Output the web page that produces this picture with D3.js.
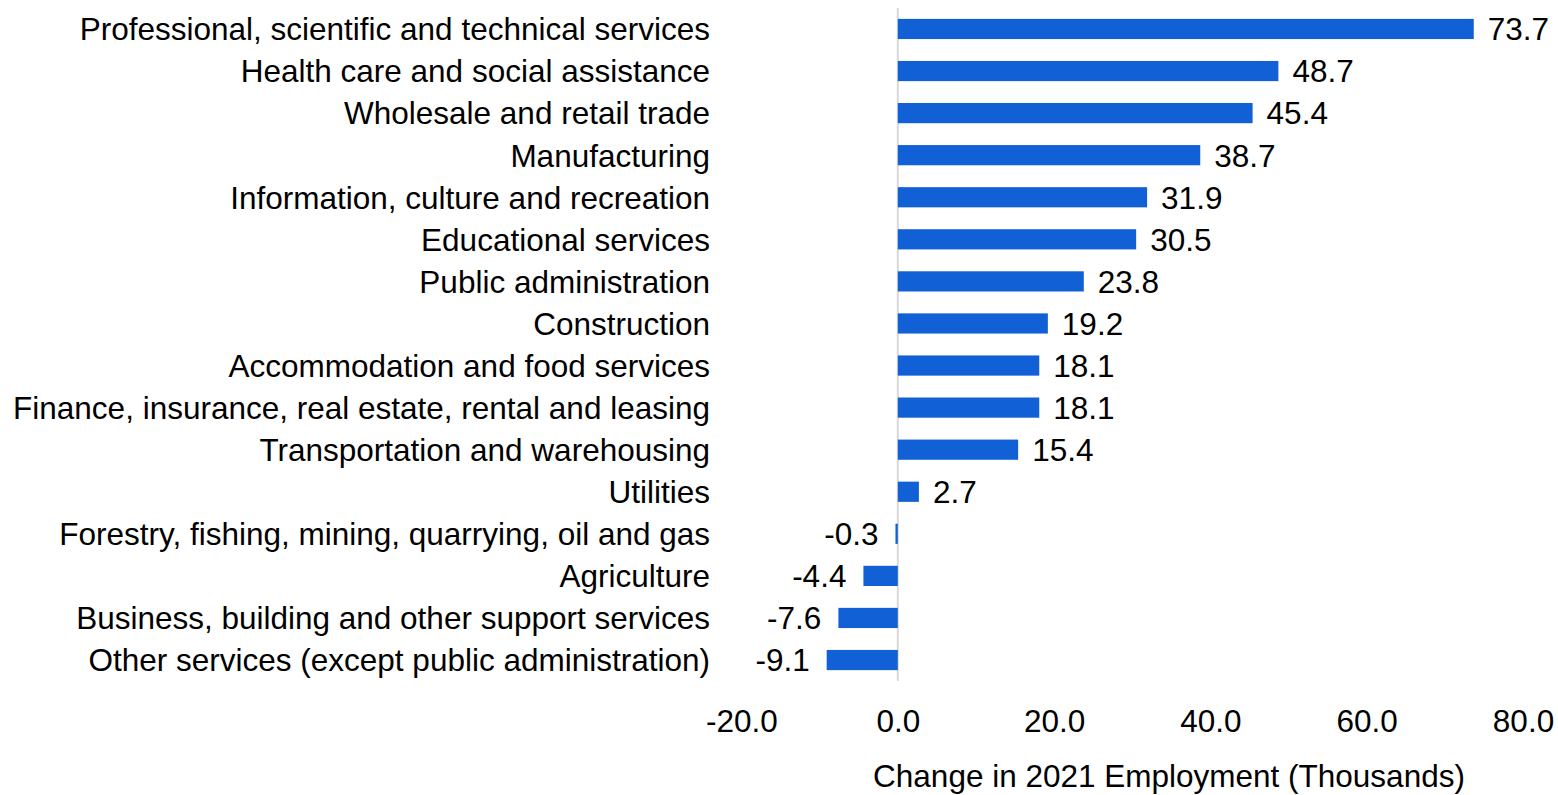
<!DOCTYPE html>
<html>
<head>
<meta charset="utf-8">
<script src="https://cdn.jsdelivr.net/npm/d3@7"></script>
<style>
  body { margin: 0; background: #fff; }
  text { font-family: "Liberation Sans", Arial, sans-serif; fill: #000; }
</style>
</head>
<body>
<svg width="1558" height="795"></svg>
<script>
// Data
var industries = [
  "Professional, scientific and technical services",
  "Health care and social assistance",
  "Wholesale and retail trade",
  "Manufacturing",
  "Information, culture and recreation",
  "Educational services",
  "Public administration",
  "Construction",
  "Accommodation and food services",
  "Finance, insurance, real estate, rental and leasing",
  "Transportation and warehousing",
  "Utilities",
  "Forestry, fishing, mining, quarrying, oil and gas",
  "Agriculture",
  "Business, building and other support services",
  "Other services (except public administration)"
];
var changes = [73.7, 48.7, 45.4, 38.7, 31.9, 30.5, 23.8, 19.2, 18.1, 18.1, 15.4, 2.7, -0.3, -4.4, -7.6, -9.1];
var xTicks = [-20, 0, 20, 40, 60, 80];
var axisTitle = "Change in 2021 Employment (Thousands)";

var rows = industries.map((d, i) => ({name: d, value: changes[i]}));

var fontSize = '31.5px';
var fmt = v => v.toFixed(1);   // plain hyphen for negatives, like the original

var svg = d3.select('svg');

var x = d3.scaleLinear()
    .domain([-20, 80])
    .range([741.5, 1523]);

var y = d3.scaleBand()
    .domain(industries)
    .range([-3, 692])
    .padding(0.52);

// zero line
svg.append('line')
    .attr('x1', x(0)).attr('x2', x(0))
    .attr('y1', 8).attr('y2', 681)
    .attr('stroke', '#d9d9d9')
    .attr('stroke-width', 2);

// bars
svg.selectAll('rect.bar')
    .data(rows)
    .enter()
    .append('rect')
    .attr('class', 'bar')
    .attr('x', d => x(Math.min(0, d.value)))
    .attr('width', d => Math.abs(x(d.value) - x(0)))
    .attr('y', d => y(d.name))
    .attr('height', y.bandwidth())
    .attr('fill', '#1160d5');

// value labels
svg.selectAll('text.val')
    .data(rows)
    .enter()
    .append('text')
    .attr('class', 'val')
    .attr('x', d => d.value >= 0 ? x(d.value) + 14 : x(d.value) - 17)
    .attr('y', d => y(d.name) + y.bandwidth() / 2)
    .attr('dy', '0.36em')
    .attr('text-anchor', d => d.value >= 0 ? 'start' : 'end')
    .style('font-size', fontSize)
    .text(d => fmt(d.value));

// category labels
svg.selectAll('text.cat')
    .data(rows)
    .enter()
    .append('text')
    .attr('class', 'cat')
    .attr('x', 710)
    .attr('y', d => y(d.name) + y.bandwidth() / 2)
    .attr('dy', '0.36em')
    .attr('text-anchor', 'end')
    .style('font-size', fontSize)
    .text(d => d.name);

// x axis (labels only)
var xAxis = d3.axisBottom(x)
    .tickValues(xTicks)
    .tickSize(0)
    .tickPadding(0)
    .tickFormat(fmt);

var ax = svg.append('g')
    .attr('transform', 'translate(0,710)')
    .call(xAxis);
ax.select('.domain').remove();
ax.selectAll('text')
    .style('font-size', fontSize)
    .style('font-family', '"Liberation Sans", Arial, sans-serif')
    .attr('fill', '#000');

svg.append('text')
    .attr('x', 1169)
    .attr('y', 787)
    .attr('text-anchor', 'middle')
    .style('font-size', fontSize)
    .text(axisTitle);
</script>
</body>
</html>
